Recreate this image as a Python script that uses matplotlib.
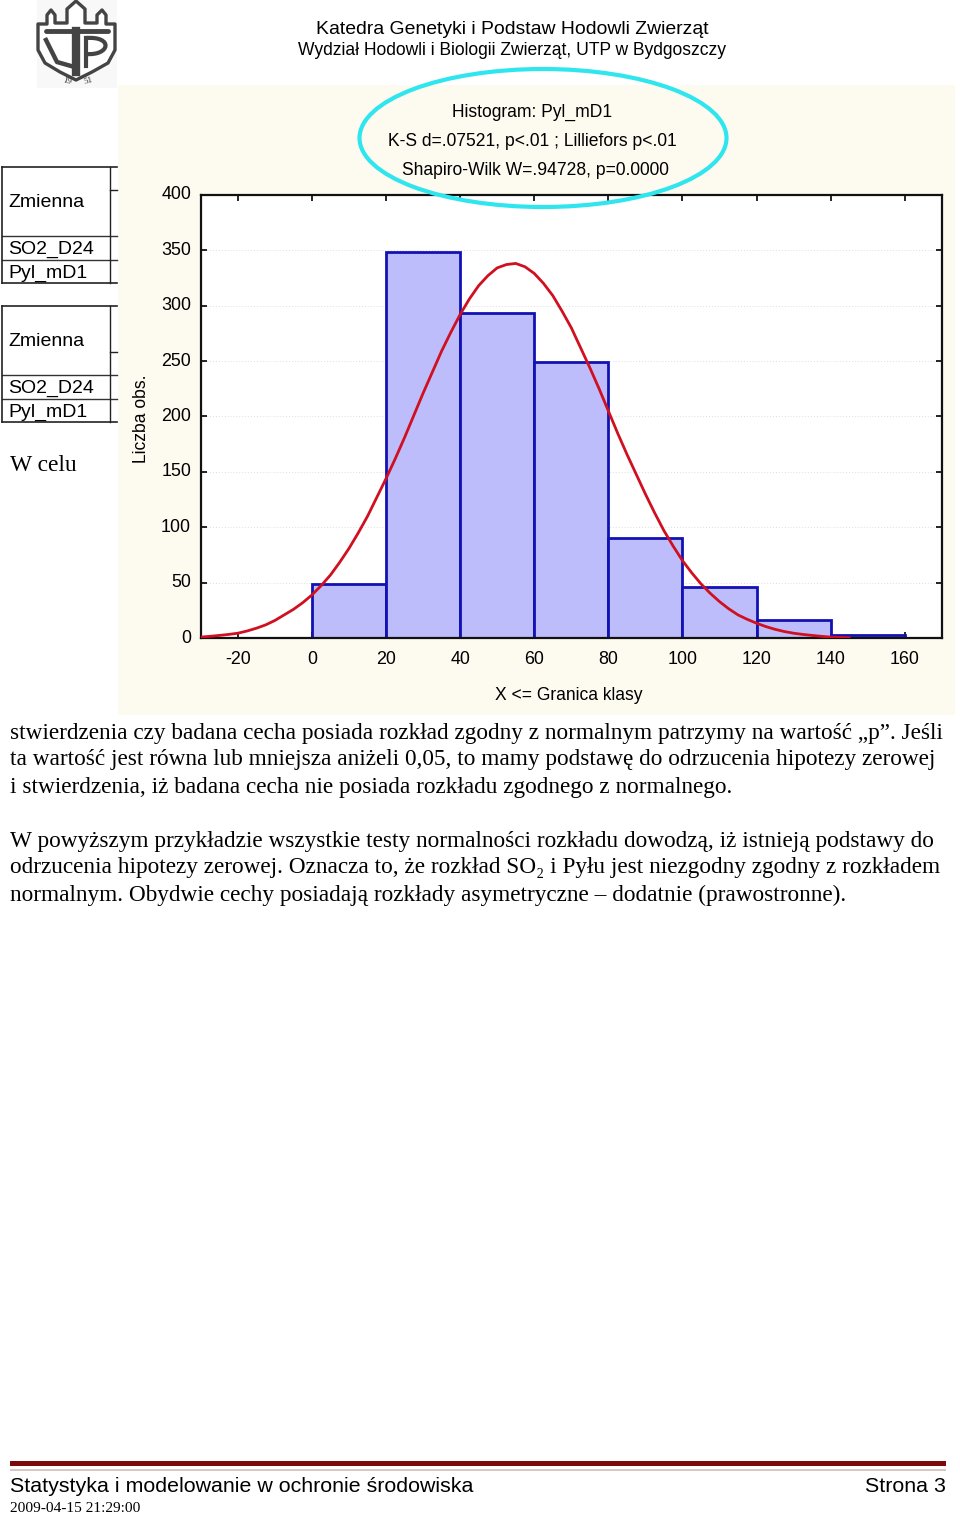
import numpy as np
import matplotlib
matplotlib.use('Agg')
import matplotlib.pyplot as plt
from matplotlib.patches import Ellipse, Rectangle, Polygon, PathPatch
from matplotlib.path import Path

plt.rcParams['axes.unicode_minus'] = False

# histogram bins and counts
bin_left = [0, 20, 40, 60, 80, 100, 120, 140]
counts = [49, 348, 293, 249, 90, 46, 16.5, 3]
bin_width = 20
curve_x = [-30, -27.5, -25, -22.5, -20, -17.5, -15, -12.5, -10, -7.5, -5, -2.5, 0, 2.5, 5, 7.5, 10, 12.5, 15, 17.5,
           20, 22.5, 25, 27.5, 30, 32.5, 35, 37.5, 40, 42.5, 45, 47.5, 50, 52.5, 55, 57.5, 60, 62.5, 65, 67.5, 70, 72.5,
           75, 77.5, 80, 82.5, 85, 87.5, 90, 92.5, 95, 97.5, 100, 102.5, 105, 107.5, 110, 112.5, 115, 117.5, 120, 122.5,
           125, 127.5, 130, 132.5, 135, 137.5, 140, 142.5, 145]
curve_y = [1, 1.7, 2.5, 3.4, 4.5, 6.5, 9, 12, 16, 21, 26, 32, 39, 47.5, 57, 68.5, 81, 95, 110, 127,
           144, 162, 181, 201, 221, 240, 259, 276, 292, 306, 318, 327, 334, 337, 338, 335, 329, 320, 309, 295, 280, 262,
           244, 225, 205, 185, 166, 148, 130, 113, 97, 83, 70, 59, 49, 40.5, 33, 26.5, 21, 17, 13.5, 10.5,
           8, 6, 4.5, 3.4, 2.5, 1.7, 1, 0.7, 0.4]
x_ticks = [-20, 0, 20, 40, 60, 80, 100, 120, 140, 160]
y_ticks = [0, 50, 100, 150, 200, 250, 300, 350, 400]

body_lines = [
    (10, 738.5, "stwierdzenia czy badana cecha posiada rozkład zgodny z normalnym patrzymy na wartość „p”. Jeśli"),
    (10, 765.5, "ta wartość jest równa lub mniejsza aniżeli 0,05, to mamy podstawę do odrzucenia hipotezy zerowej"),
    (10, 792.5, "i stwierdzenia, iż badana cecha nie posiada rozkładu zgodnego z normalnego."),
    (10, 846.5, "W powyższym przykładzie wszystkie testy normalności rozkładu dowodzą, iż istnieją podstawy do"),
    (10, 873.5, "odrzucenia hipotezy zerowej. Oznacza to, że rozkład SO₂ i Pyłu jest niezgodny zgodny z rozkładem"),
    (10, 900.5, "normalnym. Obydwie cechy posiadają rozkłady asymetryczne – dodatnie (prawostronne)."),
]
SANS = 'Liberation Sans'
SERIF = ['Liberation Serif', 'DejaVu Serif']

W, H = 960, 1516
fig = plt.figure(figsize=(W / 100, H / 100), dpi=100, facecolor='white')

# page layer in pixel coordinates
bg = fig.add_axes([0, 0, 1, 1], zorder=0)
bg.set_xlim(0, W)
bg.set_ylim(H, 0)
bg.axis('off')
bg.add_patch(Rectangle((118, 85), 837, 630, fc='#fdfaf0', ec='none'))

# logo, rough shield with towers
bg.add_patch(Rectangle((37, 0), 80, 88, fc='#f8f8f8', ec='none'))
shield = [(38, 24), (47, 24), (47, 15), (51, 10), (55, 15), (55, 23), (67, 23), (67, 9), (76, 1), (85, 9), (85, 23),
          (97, 23), (97, 15), (102, 10), (106, 15), (106, 24), (115, 24), (115, 50), (108, 63), (92, 72), (76, 80),
          (60, 72), (45, 63), (38, 50)]
bg.add_patch(Polygon(shield, closed=True, fc='white', ec='#444444', lw=2.4, joinstyle='round'))
bg.plot([46, 108], [31, 31], color='#444444', lw=3.5, solid_capstyle='round')
bg.plot([46, 57, 71], [40, 62, 66], color='#444444', lw=3.2)
bg.plot([76, 76], [31, 72], color='#444444', lw=6)
bg.plot([86, 86], [38, 66], color='#444444', lw=3)
bg.add_patch(PathPatch(Path([(86, 38), (114, 36), (110, 56), (86, 54)],
                            [Path.MOVETO, Path.CURVE4, Path.CURVE4, Path.CURVE4]), fc='none', ec='#444444', lw=3))
bg.text(67, 81, '19', fontsize=6.5, family=SERIF, ha='center', va='center', rotation=-15, color='#333333')
bg.text(88, 81, '51', fontsize=6.5, family=SERIF, ha='center', va='center', rotation=15, color='#333333')

# header
bg.text(512.5, 29, 'Katedra Genetyki i Podstaw Hodowli Zwierząt', fontsize=13.95, family=SANS, ha='center', va='center')
bg.text(512.5, 50.5, 'Wydział Hodowli i Biologii Zwierząt, UTP w Bydgoszczy', fontsize=12.65, family=SANS, ha='center', va='center')

# leftover table pieces behind the chart
for top_y, bottom, head_tick in [(167, 283, 190), (306, 422, 352)]:
    bg.plot([2, 117], [top_y, top_y], color='#222222', lw=1.2)
    bg.plot([2, 117], [top_y + 69, top_y + 69], color='#333333', lw=1)
    bg.plot([2, 117], [top_y + 93, top_y + 93], color='#333333', lw=1)
    bg.plot([2, 117], [bottom, bottom], color='#222222', lw=1.2)
    bg.plot([2, 2], [top_y, bottom], color='#222222', lw=1.2)
    bg.plot([110, 110], [top_y, bottom], color='#222222', lw=1)
    bg.plot([110, 117], [head_tick, head_tick], color='#222222', lw=1)
    bg.text(8, top_y + 35.5, 'Zmienna', fontsize=14, family=SANS, va='center')
    bg.text(8, top_y + 82, 'SO2_D24', fontsize=14, family=SANS, va='center')
    bg.text(8, top_y + 106, 'Pyl_mD1', fontsize=14, family=SANS, va='center')
bg.text(10, 471, 'W celu', fontsize=16.9, family=SERIF)

# histogram
ax = fig.add_axes([200.8 / W, 1 - 638.2 / H, 741 / W, 443.5 / H], zorder=1)
ax.bar(bin_left, counts, width=bin_width, align='edge', color='#bdbdfb', edgecolor='#1212b4', linewidth=2, zorder=2)
ax.plot(curve_x, curve_y, color='#d01020', lw=2, zorder=3)
ax.set_xlim(-30, 170)
ax.set_ylim(0, 400)
ax.set_xticks(x_ticks)
ax.set_yticks(y_ticks)
ax.grid(axis='y', color='#dddddd', lw=0.7, ls=(0, (1, 2)), zorder=1)
ax.tick_params(direction='in', length=4, width=1.2, top=True, right=True, labelsize=12.9, pad=9, labelfontfamily=SANS)
ax.tick_params(axis='y', pad=7)
for lab in ax.get_yticklabels():
    lab.set_verticalalignment('center')
for s in ax.spines.values():
    s.set_linewidth(1.6)
    s.set_color('#111111')
ax.set_facecolor('white')

# top layer: chart titles, ellipse, axis labels
top = fig.add_axes([0, 0, 1, 1], zorder=2)
top.set_xlim(0, W)
top.set_ylim(H, 0)
top.axis('off')
top.text(532.5, 112.5, 'Histogram: Pyl_mD1', fontsize=12.65, family=SANS, ha='center', va='center')
top.text(532.5, 141.5, 'K-S d=.07521, p<.01 ; Lilliefors p<.01', fontsize=12.65, family=SANS, ha='center', va='center')
top.text(535, 170.5, 'Shapiro-Wilk W=.94728, p=0.0000', fontsize=12.65, family=SANS, ha='center', va='center')
top.add_patch(Ellipse((543, 138), 367, 138, fc='none', ec='#2fe6ee', lw=3))
top.text(568.5, 695.5, 'X <= Granica klasy', fontsize=12.65, family=SANS, ha='center', va='center')
top.text(141, 419, 'Liczba obs.', fontsize=12.65, family=SANS, ha='center', va='center', rotation=90)

# body text
for px, py, line in body_lines:
    top.text(px, py, line, fontsize=16.78, family=SERIF)

# footer
top.add_patch(Rectangle((10, 1461), 936, 5, fc='#7d0a0a', ec='none'))
top.add_patch(Rectangle((10, 1469), 936, 1.5, fc='#d8c8c4', ec='none'))
top.text(10, 1487, 'Statystyka i modelowanie w ochronie środowiska', fontsize=15.4, family=SANS, va='center')
top.text(946, 1487, 'Strona 3', fontsize=15.4, family=SANS, va='center', ha='right')
top.text(10, 1508, '2009-04-15 21:29:00', fontsize=11.1, family=SERIF, va='center')

fig.savefig('out.png', dpi=100)
